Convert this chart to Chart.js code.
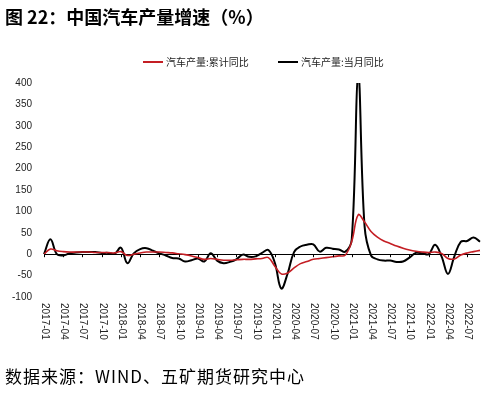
<!DOCTYPE html>
<html lang="zh">
<head>
<meta charset="UTF-8">
<title>中国汽车产量增速</title>
<script src="https://cdn.jsdelivr.net/npm/chart.js"></script>
<style>
body{margin:0;width:492px;height:394px;position:relative;background:#fff;overflow:hidden;font-family:"Noto Sans CJK SC",sans-serif}
#title{position:absolute;left:5px;top:4px;font-size:18px;font-weight:bold;color:#000;white-space:nowrap;line-height:24px}
#src{position:absolute;left:5px;top:364px;font-size:17px;letter-spacing:1px;color:#000;white-space:nowrap;line-height:24px}
.lg{position:absolute;top:55px;font-size:10px;color:#222;white-space:nowrap;line-height:14px}
.lg i{display:inline-block;width:20px;height:2px;vertical-align:middle;margin-right:3px;margin-top:-2px}
#wrap{position:absolute;left:0;top:0;width:492px;height:394px}
</style>
</head>
<body>
<div id="wrap"><canvas id="myChart" width="492" height="394"></canvas></div>
<div id="title">图 22：中国汽车产量增速（%）</div>
<div class="lg" style="left:143px"><i style="background:#C41E24"></i>汽车产量:累计同比</div>
<div class="lg" style="left:278px"><i style="background:#000"></i>汽车产量:当月同比</div>
<div id="src">数据来源：WIND、五矿期货研究中心</div>
<script>
// 월별 카테고리 (2017-01 ~ 2022-09)
const months = [
  "2017-01","2017-02","2017-03","2017-04","2017-05","2017-06","2017-07","2017-08","2017-09","2017-10","2017-11","2017-12",
  "2018-01","2018-02","2018-03","2018-04","2018-05","2018-06","2018-07","2018-08","2018-09","2018-10","2018-11","2018-12",
  "2019-01","2019-02","2019-03","2019-04","2019-05","2019-06","2019-07","2019-08","2019-09","2019-10","2019-11","2019-12",
  "2020-01","2020-02","2020-03","2020-04","2020-05","2020-06","2020-07","2020-08","2020-09","2020-10","2020-11","2020-12",
  "2021-01","2021-02","2021-03","2021-04","2021-05","2021-06","2021-07","2021-08","2021-09","2021-10","2021-11","2021-12",
  "2022-01","2022-02","2022-03","2022-04","2022-05","2022-06","2022-07","2022-08","2022-09"
];

// 汽车产量:累计同比
const cumYoY = [
  0, 12, 8, 6, 5, 5, 5, 5, 4, 4, 4, 3,
  6, -3, 0, 3, 5, 5, 5, 4, 3, 1, -1, -4,
  -8, -12, -10, -12, -14, -14, -13, -12, -12, -11, -10, -8,
  -28, -46, -44, -32, -22, -17, -12, -10, -8, -6, -4, -2,
  30, 92, 75, 53, 40, 31, 25, 19, 14, 10, 7, 5,
  4, 5, 2, -10, -11, -2, 3, 6, 9
];

// 汽车产量:当月同比
const monthYoY = [
  0, 35, 0, -3, 2, 4, 5, 5, 5, 3, 3, 1,
  15, -21, 2, 12, 14, 8, 2, -3, -9, -10, -17, -14,
  -10, -17, 2, -15, -21, -18, -12, -1, -6, -5, 3, 10,
  -20, -80, -45, 5, 18, 22, 23, 6, 15, 13, 11, 6,
  35, 420, 65, -3, -12, -15, -15, -18, -17, -8, 3, 2,
  0, 22, -5, -46, -5, 29, 31, 39, 29
];

const yMin = -100, yMax = 400, yStep = 50;

// x축 라벨은 시계방향 90도로 세워서 그림
const xLabelPlugin = {
  id: 'xLabels',
  afterDraw(chart) {
    const ctx = chart.ctx;
    const xs = chart.scales.x, ys = chart.scales.y;
    const y0 = ys.getPixelForValue(0);
    ctx.save();
    ctx.strokeStyle = '#000';
    ctx.lineWidth = 1;
    ctx.fillStyle = '#222';
    ctx.font = '10px "Liberation Sans", Arial, sans-serif';
    months.forEach((m, i) => {
      if (i % 3 !== 0) return;
      const px = Math.round(xs.getPixelForValue(i)) + 0.5;
      ctx.beginPath();
      ctx.moveTo(px, y0);
      ctx.lineTo(px, y0 + 3);
      ctx.stroke();
      ctx.save();
      ctx.translate(px, ys.bottom + 6);
      ctx.rotate(Math.PI / 2);
      ctx.textAlign = 'left';
      ctx.textBaseline = 'middle';
      ctx.fillText(m, 0, 0);
      ctx.restore();
    });
    ctx.restore();
  }
};

const ctx = document.querySelector('#myChart');
const carChart = new Chart(ctx, {
  type: 'line',
  data: {
    labels: months,
    datasets: [
      {
        label: '汽车产量:累计同比',
        data: cumYoY,
        borderColor: '#C41E24',
        borderWidth: 1.6,
        pointRadius: 0,
        tension: 0.4
      },
      {
        label: '汽车产量:当月同比',
        data: monthYoY,
        borderColor: '#000',
        borderWidth: 2,
        pointRadius: 0,
        tension: 0.4
      }
    ]
  },
  options: {
    responsive: false,
    animation: false,
    layout: { padding: { top: 83, right: 12, left: 0, bottom: 0 } },
    plugins: {
      legend: { display: false },
      tooltip: { enabled: false }
    },
    scales: {
      x: {
        offset: false,
        grid: { display: false },
        border: { display: false },
        ticks: { display: false },
        afterFit(s) { s.height = 97; }
      },
      y: {
        min: yMin,
        max: yMax,
        border: { display: false },
        grid: {
          drawTicks: false,
          color: c => (c.tick && c.tick.value === 0) ? '#000' : 'rgba(0,0,0,0)',
          lineWidth: 1
        },
        ticks: {
          stepSize: yStep,
          padding: 12,
          color: '#222',
          font: { family: '"Liberation Sans", Arial, sans-serif', size: 10 }
        },
        afterFit(s) { s.width = 44; }
      }
    }
  },
  plugins: [xLabelPlugin]
});
</script>
</body>
</html>
